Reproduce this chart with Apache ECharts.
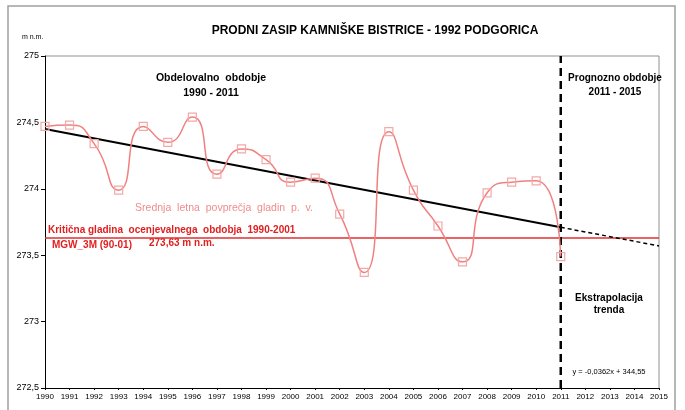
<!DOCTYPE html>
<html><head><meta charset="utf-8">
<script src="https://cdn.jsdelivr.net/npm/echarts@6/dist/echarts.min.js"></script>
<style>html,body{margin:0;padding:0;background:#fff}#c{width:685px;height:410px}</style>
</head><body><div id="c"></div>
<script>
const years = [1990,1991,1992,1993,1994,1995,1996,1997,1998,1999,2000,2001,2002,2003,2004,2005,2006,2007,2008,2009,2010,2011];
const levels = [274.47,274.48,274.34,273.99,274.47,274.35,274.54,274.11,274.30,274.22,274.05,274.08,273.81,273.37,274.43,273.99,273.72,273.45,273.97,274.05,274.06,273.49];
const trendYears = [1990, 2011];
const trendValues = [274.45, 273.71];
const forecastYears = [2011, 2015];
const forecastValues = [273.71, 273.57];
const criticalLevel = 273.63;
const xRange = [1990, 2015];
const yRange = [272.5, 275];
const yTicks = [272.5, 273, 273.5, 274, 274.5, 275];

const F = '"Liberation Sans", Arial, sans-serif';
const chart = echarts.init(document.getElementById('c'));
const txt = (x, y, text, style) => ({type:'text', x, y, style: Object.assign({text, fontFamily:F, fill:'#000', fontSize:10, fontWeight:'bold', textAlign:'center', textVerticalAlign:'middle'}, style)});

chart.setOption({
  animation:false,
  backgroundColor:'#fff',
  grid:{left:45, right:26, top:56, bottom:22, show:false},
  xAxis:{type:'value', min:xRange[0], max:xRange[1], interval:1,
    axisLine:{lineStyle:{color:'#000', width:1}},
    axisTick:{show:true, length:2, lineStyle:{color:'#000'}},
    axisLabel:{fontSize:8, fontFamily:F, color:'#000', margin:5, formatter:v=>String(v)},
    splitLine:{show:false}},
  yAxis:{type:'value', min:yRange[0], max:yRange[1], interval:0.5,
    axisLine:{show:true, lineStyle:{color:'#000', width:1}},
    axisTick:{show:true, length:4, lineStyle:{color:'#000'}},
    axisLabel:{fontSize:9, fontFamily:F, color:'#000', margin:6, formatter:v=> yTicks.includes(v) ? String(v).replace('.',',') : ''},
    splitLine:{show:false}},
  graphic:[
    {type:'rect', shape:{x:8, y:6, width:667, height:420}, style:{fill:'none', stroke:'#a0a0a0', lineWidth:1.5}, silent:true},
    {type:'line', shape:{x1:45, y1:56, x2:659, y2:56}, style:{stroke:'#909090', lineWidth:1}},
    {type:'line', shape:{x1:659, y1:56, x2:659, y2:388}, style:{stroke:'#909090', lineWidth:1}},
    txt(375, 31, 'PRODNI ZASIP KAMNIŠKE BISTRICE - 1992 PODGORICA', {fontSize:12}),
    txt(22, 37, 'm n.m.', {fontSize:7, fontWeight:'normal', textAlign:'left'}),
    txt(211, 78, 'Obdelovalno  obdobje', {fontSize:10.5}),
    txt(211, 93, '1990 - 2011', {fontSize:10.5}),
    txt(615, 78, 'Prognozno obdobje', {fontSize:10}),
    txt(615, 92, '2011 - 2015', {fontSize:10}),
    txt(224, 208, 'Srednja  letna  povprečja  gladin  p.  v.', {fontSize:10.5, fontWeight:'normal', fill:'#f08c8c'}),
    txt(48, 230, 'Kritična gladina  ocenjevalnega  obdobja  1990-2001', {fontSize:10, fill:'#e02020', textAlign:'left'}),
    txt(52, 245, 'MGW_3M (90-01)', {fontSize:10, fill:'#e02020', textAlign:'left'}),
    txt(149, 243, '273,63 m n.m.', {fontSize:10, fill:'#e02020', textAlign:'left'}),
    txt(609, 298, 'Ekstrapolacija', {fontSize:10}),
    txt(609, 310, 'trenda', {fontSize:10}),
    txt(609, 372, 'y = -0,0362x + 344,55', {fontSize:7.5, fontWeight:'normal'})
  ],
  series:[
    {type:'line', data:[[xRange[0],criticalLevel],[xRange[1],criticalLevel]], symbol:'none', lineStyle:{color:'#e03030', width:1.5}, z:2},
    {type:'line', data:trendYears.map((y,i)=>[y,trendValues[i]]), symbol:'none', lineStyle:{color:'#000', width:2}, z:3},
    {type:'line', data:forecastYears.map((y,i)=>[y,forecastValues[i]]), symbol:'none', lineStyle:{color:'#000', width:1.5, type:[4,3]}, z:3},
    {type:'line', data:[[2011,yRange[0]],[2011,yRange[1]]], symbol:'none', lineStyle:{color:'#000', width:2.5, type:[8,5]}, z:4},
    {type:'line', data:years.map((y,i)=>[y,levels[i]]), smooth:0.6, symbol:'rect', symbolSize:8,
      itemStyle:{color:'rgba(255,255,255,0)', borderColor:'#f4a8a8', borderWidth:1.2},
      lineStyle:{color:'#f08080', width:1.5}, z:5}
  ]
});
</script></body></html>
